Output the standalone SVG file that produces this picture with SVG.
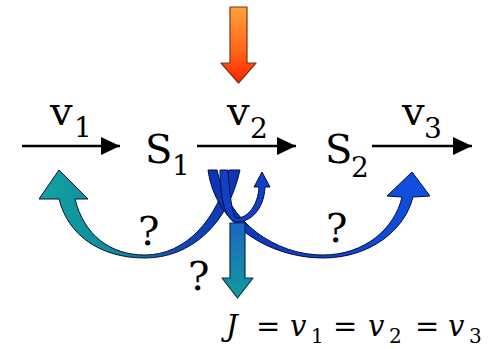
<svg xmlns="http://www.w3.org/2000/svg" width="490" height="349" viewBox="0 0 490 349">
<defs>
<linearGradient id="gOrange" x1="0" y1="7" x2="0" y2="83" gradientUnits="userSpaceOnUse">
<stop offset="0" stop-color="#ffa23a"/><stop offset="0.55" stop-color="#ff6a1a"/><stop offset="1" stop-color="#ff2200"/>
</linearGradient>
<linearGradient id="gTeal" x1="0" y1="223" x2="0" y2="298" gradientUnits="userSpaceOnUse">
<stop offset="0" stop-color="#1d66c4"/><stop offset="0.6" stop-color="#1487ae"/><stop offset="1" stop-color="#0f9c9c"/>
</linearGradient>
<linearGradient id="gLeft" x1="40" y1="0" x2="240" y2="0" gradientUnits="userSpaceOnUse">
<stop offset="0" stop-color="#12a2a2"/><stop offset="0.45" stop-color="#0e8698"/><stop offset="0.7" stop-color="#1048b6"/><stop offset="1" stop-color="#0c36b4"/>
</linearGradient>
<linearGradient id="gRight" x1="208" y1="0" x2="430" y2="0" gradientUnits="userSpaceOnUse">
<stop offset="0" stop-color="#0c34b4"/><stop offset="1" stop-color="#1250e0"/>
</linearGradient>
<marker id="ah" markerWidth="19" markerHeight="18" refX="19" refY="9" orient="auto" markerUnits="userSpaceOnUse">
<path d="M0,0 L19,9 L0,18 Z" fill="#000"/>
</marker>
</defs>
<style>
.flow{stroke:#000;stroke-width:2.6;fill:none}
.tx{font-family:"DejaVu Serif",serif}
.big{font-size:40px}
.sub{font-size:28px}
.eq{font-size:29px}
.eqs{font-size:20px}
.it{font-style:italic}
.arc{stroke:#080c3c;stroke-width:1;stroke-linejoin:round}
</style>
<rect width="490" height="349" fill="#fff"/>
<g id="connectors">
<line class="flow" x1="22" y1="146" x2="120" y2="146" marker-end="url(#ah)"/>
<line class="flow" x1="197" y1="146" x2="296" y2="146" marker-end="url(#ah)"/>
<line class="flow" x1="372" y1="146" x2="472" y2="146" marker-end="url(#ah)"/>
<path id="arc-left" class="arc" fill="url(#gLeft)" d="M39,199 L59,170 L88,199 L75,199 C84,235 110,255 145,255 C185,255 218,220 229,170 L240,170 C228,225 190,258 145,258 C100,258 68,235 59,199 Z"/>
<path id="arc-right" class="arc" fill="url(#gRight)" d="M208,170 C215,225 270,258 323,258 C370,258 405,230 413,197 L430,196 L412,172 L387,196 L402,197 C395,228 365,255 323,255 C275,255 228,222 217,170 Z"/>
<path id="arc-small" class="arc" fill="#1040c4" d="M220,170 L228,170 C230,200 233,218 237,218 C248,218 258,205 259,187 L254,187 L262,172 L270,187 L265,187 C264,210 250,222 237,222 C226,222 220,200 220,170 Z"/>
</g>
<g id="input-arrow">
<path d="M230,7 L247,7 L247,63 L256,63 L238.5,83 L221,63 L230,63 Z" fill="url(#gOrange)" stroke="#7a3514" stroke-width="1.2" stroke-linejoin="round"/>
</g>
<g id="output-arrow">
<path d="M230,223 L245,223 L245,278 L253,278 L237.5,298 L222,278 L230,278 Z" fill="url(#gTeal)" stroke="#0c2c4c" stroke-width="1.2" stroke-linejoin="round"/>
</g>
<g class="tx" fill="#000">
<g id="v1"><text class="tx big" x="50" y="125">v</text><text class="tx sub" x="74" y="137">1</text></g>
<g id="S1"><text class="tx big" x="145" y="163">S</text><text class="tx sub" x="172" y="175">1</text></g>
<g id="v2"><text class="tx big" x="227" y="125">v</text><text class="tx sub" x="250" y="138">2</text></g>
<g id="S2"><text class="tx big" x="325" y="163">S</text><text class="tx sub" x="351" y="177">2</text></g>
<g id="v3"><text class="tx big" x="402" y="125">v</text><text class="tx sub" x="424" y="138">3</text></g>
<g id="q-left"><text class="tx big" x="138" y="245">?</text></g>
<g id="q-mid"><text class="tx big" x="188" y="290">?</text></g>
<g id="q-right"><text class="tx big" x="326" y="242">?</text></g>
<g id="equation">
<text class="tx eq it" x="226" y="336">J</text>
<text class="tx eq" x="256" y="336">=</text>
<text class="tx eq it" x="290" y="336">v</text>
<text class="tx eqs" x="311" y="343">1</text>
<text class="tx eq" x="333" y="336">=</text>
<text class="tx eq it" x="368" y="336">v</text>
<text class="tx eqs" x="389" y="343">2</text>
<text class="tx eq" x="415" y="336">=</text>
<text class="tx eq it" x="448" y="336">v</text>
<text class="tx eqs" x="469" y="343">3</text>
</g>
</g>
</svg>
